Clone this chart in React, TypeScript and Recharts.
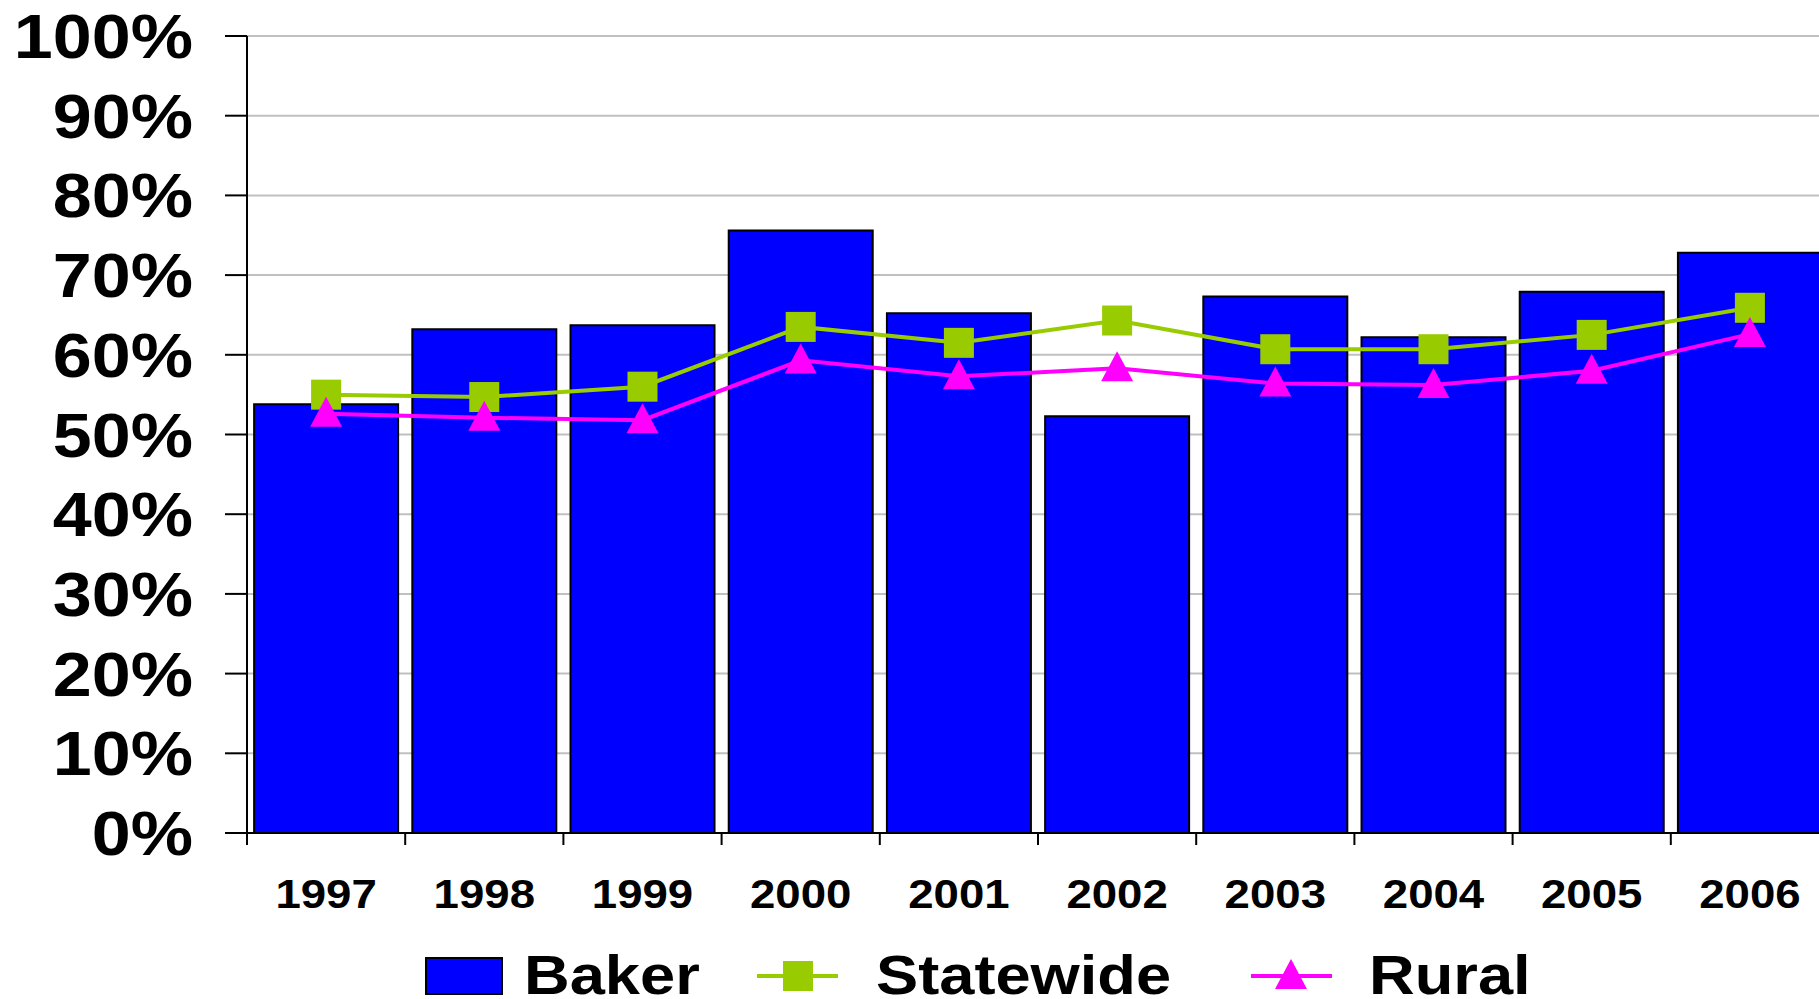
import React from "react";
import {
  ComposedChart,
  Bar,
  Line,
  XAxis,
  YAxis,
  CartesianGrid,
  Legend,
} from "recharts";

const years = ["1997", "1998", "1999", "2000", "2001", "2002", "2003", "2004", "2005", "2006"];
const baker = [53.8, 63.2, 63.7, 75.6, 65.2, 52.3, 67.3, 62.2, 67.9, 72.8];
const statewide = [55.0, 54.7, 56.0, 63.5, 61.5, 64.3, 60.7, 60.7, 62.5, 65.9];
const rural = [52.6, 52.1, 51.8, 59.3, 57.3, 58.3, 56.4, 56.2, 58.0, 62.6];
const yTicks = [0, 10, 20, 30, 40, 50, 60, 70, 80, 90, 100];

const data = years.map((year, i) => ({
  year,
  baker: baker[i],
  statewide: statewide[i],
  rural: rural[i],
}));

const FONT = '"Liberation Sans", Arial, sans-serif';
const BLUE = "#0000ff";
const GREEN = "#99cc00";
const PINK = "#ff00ff";

const CHART_W = 1829;
const PLOT_LEFT = 247;
const BAND = (CHART_W - PLOT_LEFT) / years.length;

const YTick = (props: any) => {
  const { x, y, payload } = props;
  return (
    <g transform={`translate(${x},${y + 22}) scale(1.13,1)`}>
      <text x={0} y={0} textAnchor="end" fontFamily={FONT} fontWeight="bold" fontSize={62} fill="#000">
        {payload.value}%
      </text>
    </g>
  );
};

const XTick = (props: any) => {
  const { x, y, payload } = props;
  return (
    <g>
      <line x1={x - BAND / 2} x2={x - BAND / 2} y1={y - 12} y2={y} stroke="#000" strokeWidth={2} />
      <g transform={`translate(${x},${y + 63}) scale(1.14,1)`}>
        <text x={0} y={0} textAnchor="middle" fontFamily={FONT} fontWeight="bold" fontSize={40} fill="#000">
          {payload.value}
        </text>
      </g>
    </g>
  );
};

const SquareDot = (props: any) => {
  const { cx, cy } = props;
  if (cx == null || cy == null) return null;
  return <rect x={cx - 15} y={cy - 15} width={30} height={30} fill={GREEN} />;
};

const TriangleDot = (props: any) => {
  const { cx, cy } = props;
  if (cx == null || cy == null) return null;
  return <polygon points={`${cx},${cy - 17} ${cx + 16},${cy + 13} ${cx - 16},${cy + 13}`} fill={PINK} />;
};

const LegendLabel = ({ x, label }: { x: number; label: string }) => (
  <g transform={`translate(${x},74) scale(1.15,1)`}>
    <text x={0} y={0} fontFamily={FONT} fontWeight="bold" fontSize={55} fill="#000">
      {label}
    </text>
  </g>
);

const ChartLegend = () => (
  <svg width={CHART_W} height={80} style={{ display: "block" }}>
    <rect x={426} y={38} width={76} height={36} fill={BLUE} stroke="#000" strokeWidth={2} />
    <LegendLabel x={524} label="Baker" />
    <line x1={757} x2={838} y1={56} y2={56} stroke={GREEN} strokeWidth={4} />
    <rect x={783} y={41} width={30} height={30} fill={GREEN} />
    <LegendLabel x={876} label="Statewide" />
    <line x1={1251} x2={1332} y1={56} y2={56} stroke={PINK} strokeWidth={4} />
    <polygon points="1291,39 1307,69 1275,69" fill={PINK} />
    <LegendLabel x={1369} label="Rural" />
  </svg>
);

export default function App() {
  return (
    <div
      style={{
        position: "absolute",
        left: 0,
        top: 0,
        width: 1819,
        height: 999,
        overflow: "hidden",
        background: "#fff",
      }}
    >
      <ComposedChart
        width={CHART_W}
        height={1000}
        data={data}
        barCategoryGap="4.5%"
        margin={{ top: 36, right: 0, bottom: 0, left: 0 }}
      >
        <CartesianGrid vertical={false} stroke="#c0c0c0" strokeWidth={2} />
        <XAxis
          dataKey="year"
          interval={0}
          height={87}
          tickSize={12}
          tickMargin={0}
          tickLine={false}
          axisLine={{ stroke: "#000", strokeWidth: 2 }}
          tick={<XTick />}
        />
        <YAxis
          width={PLOT_LEFT}
          domain={[0, 100]}
          ticks={yTicks}
          interval={0}
          tickSize={22}
          tickMargin={32}
          axisLine={{ stroke: "#000", strokeWidth: 2 }}
          tickLine={{ stroke: "#000", strokeWidth: 2 }}
          tick={<YTick />}
        />
        <Legend
          verticalAlign="bottom"
          height={80}
          wrapperStyle={{ left: 0, bottom: 0, width: CHART_W, height: 80 }}
          content={() => <ChartLegend />}
        />
        <Bar dataKey="baker" name="Baker" fill={BLUE} stroke="#000" strokeWidth={2} isAnimationActive={false} />
        <Line
          dataKey="statewide"
          name="Statewide"
          stroke={GREEN}
          strokeWidth={4}
          dot={<SquareDot />}
          activeDot={false}
          isAnimationActive={false}
        />
        <Line
          dataKey="rural"
          name="Rural"
          stroke={PINK}
          strokeWidth={4}
          dot={<TriangleDot />}
          activeDot={false}
          isAnimationActive={false}
        />
      </ComposedChart>
    </div>
  );
}
